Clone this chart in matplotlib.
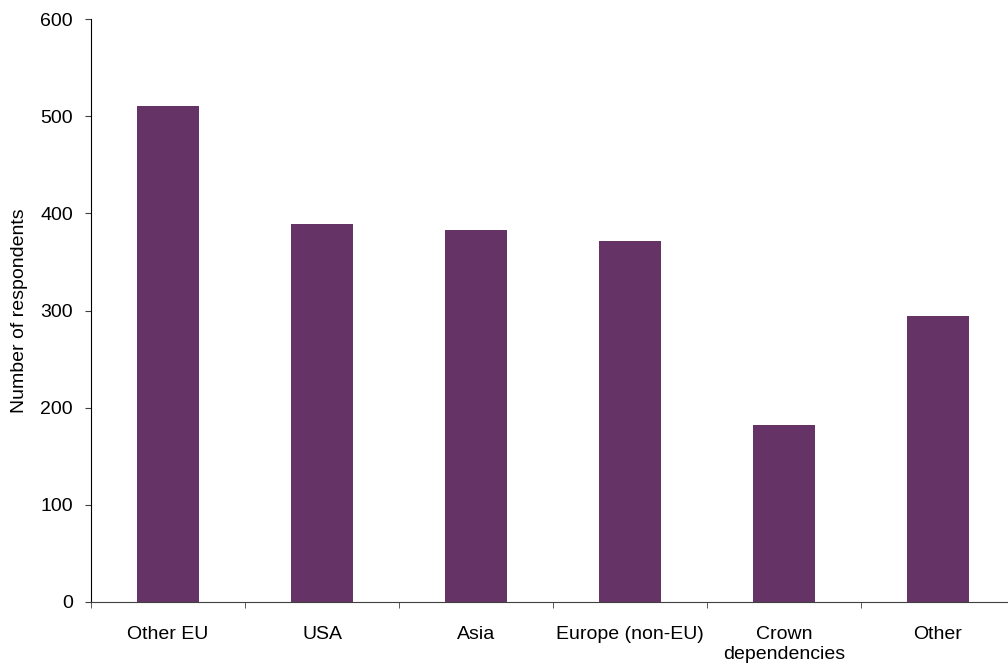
import matplotlib
matplotlib.use("Agg")
import matplotlib.pyplot as plt
import numpy as np

categories = ["Other EU", "USA", "Asia", "Europe (non-EU)", "Crown\ndependencies", "Other"]
respondents = [510, 389, 383, 372, 182, 294]
yticks = [0, 100, 200, 300, 400, 500, 600]

plt.rcParams["font.family"] = ["Liberation Sans", "DejaVu Sans"]
plt.rcParams["font.size"] = 14

fig = plt.figure(figsize=(10.08, 6.65), dpi=100)
ax = fig.add_axes([91 / 1008, 1 - 602 / 665, (1015 - 91) / 1008, (602 - 19) / 665])

x = np.arange(len(categories))
ax.bar(x, respondents, width=0.4, color="#663366", edgecolor="none")

ax.set_xlim(-0.5, len(categories) - 0.5)
ax.set_ylim(0, 600)
ax.set_yticks(yticks)

# labels centred under bars, tick marks between categories
ax.set_xticks(x)
ax.set_xticklabels(categories, linespacing=1.25)
ax.set_xticks(np.arange(len(categories) + 1) - 0.5, minor=True)
ax.tick_params(axis="x", which="major", length=0, pad=17)
ax.tick_params(axis="x", which="minor", length=4, direction="out", color="#404040")
ax.tick_params(axis="y", length=4, direction="out", color="#404040", pad=9)

for side in ["top", "right"]:
    ax.spines[side].set_visible(False)
ax.spines["left"].set_color("black")
ax.spines["bottom"].set_color("#404040")

ax.set_ylabel("Number of respondents", labelpad=9)

fig.savefig("out.png", dpi=100)
